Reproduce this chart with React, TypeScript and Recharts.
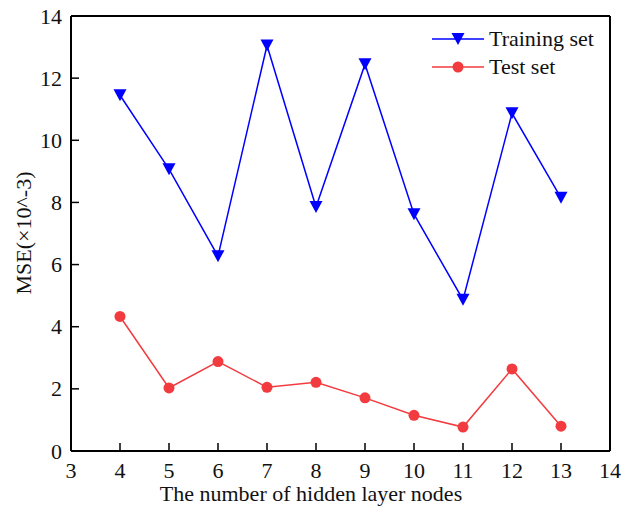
import { LineChart, Line, XAxis, YAxis, ReferenceLine } from "recharts";

const nodes = [4, 5, 6, 7, 8, 9, 10, 11, 12, 13];
const trainingMse = [11.45, 9.07, 6.27, 13.05, 7.85, 12.45, 7.62, 4.87, 10.87, 8.15];
const testMse = [4.33, 2.03, 2.88, 2.05, 2.21, 1.71, 1.15, 0.77, 2.64, 0.8];
const xTicks = [3, 4, 5, 6, 7, 8, 9, 10, 11, 12, 13, 14];
const yTicks = [0, 2, 4, 6, 8, 10, 12, 14];

const BLUE = "#0000ff";
const RED = "#f23b3f";
const FONT = "'Liberation Serif', 'Times New Roman', serif";
const FS = 22;

const data = nodes.map((n, i) => ({ n, train: trainingMse[i], test: testMse[i] }));

const YTick = ({ x, y, payload }: any) => (
  <g>
    <line x1={x + 9} x2={x + 17} y1={y} y2={y} stroke="#000" strokeWidth={1.5} />
    <text x={x} y={y} textAnchor="end" dominantBaseline="central" fontFamily={FONT} fontSize={FS} fill="#111">
      {payload.value}
    </text>
  </g>
);

const XTick = ({ x, y, payload }: any) => (
  <g>
    <line x1={x} x2={x} y1={y - 9} y2={y - 17} stroke="#000" strokeWidth={1.5} />
    <text x={x} y={y + 18} textAnchor="middle" fontFamily={FONT} fontSize={FS} fill="#111">
      {payload.value}
    </text>
  </g>
);

const DownTriangle = ({ cx, cy }: any) => (
  <path d={`M${cx - 6.5},${cy - 6} L${cx + 6.5},${cy - 6} L${cx},${cy + 6} Z`} fill={BLUE} />
);

const RedDot = ({ cx, cy }: any) => <circle cx={cx} cy={cy} r={5.5} fill={RED} />;

const legendItems = [
  { label: "Training set", color: BLUE, shape: "tri" },
  { label: "Test set", color: RED, shape: "dot" },
];

export default function App() {
  return (
    <div style={{ position: "absolute", left: 0, top: 0, width: 621, height: 510, background: "#fff" }}>
      <LineChart width={621} height={510} data={data} margin={{ top: 16, right: 11, left: 0, bottom: 0 }}>
        <XAxis
          dataKey="n"
          type="number"
          domain={[3, 14]}
          ticks={xTicks}
          height={59}
          tickSize={0}
          tickMargin={9}
          tick={<XTick />}
          tickLine={false}
          axisLine={{ stroke: "#000", strokeWidth: 2 }}
          interval={0}
        />
        <YAxis
          type="number"
          domain={[0, 14]}
          ticks={yTicks}
          width={71}
          tickSize={0}
          tickMargin={9}
          tick={<YTick />}
          tickLine={false}
          axisLine={{ stroke: "#000", strokeWidth: 2 }}
          interval={0}
        />
        <ReferenceLine y={14} stroke="#000" strokeWidth={2} />
        <ReferenceLine x={14} stroke="#000" strokeWidth={2} />
        <Line
          dataKey="train"
          name="Training set"
          stroke={BLUE}
          strokeWidth={1.5}
          dot={<DownTriangle />}
          activeDot={false}
          isAnimationActive={false}
        />
        <Line
          dataKey="test"
          name="Test set"
          stroke={RED}
          strokeWidth={1.5}
          dot={<RedDot />}
          activeDot={false}
          isAnimationActive={false}
        />
      </LineChart>
      <div style={{ position: "absolute", left: 432, top: 25, fontFamily: FONT, fontSize: FS, color: "#111" }}>
        {legendItems.map((it) => (
          <div key={it.label} style={{ display: "flex", alignItems: "center", height: 28 }}>
            <svg width={54} height={20} style={{ marginRight: 3 }}>
              <line x1={0} x2={52} y1={10} y2={10} stroke={it.color} strokeWidth={1.5} />
              {it.shape === "tri" ? (
                <path d="M19.5,4 L32.5,4 L26,16 Z" fill={it.color} />
              ) : (
                <circle cx={26} cy={10} r={5.5} fill={it.color} />
              )}
            </svg>
            <span>{it.label}</span>
          </div>
        ))}
      </div>
      <div
        style={{
          position: "absolute",
          left: 0,
          top: 481,
          width: 622,
          textAlign: "center",
          fontFamily: FONT,
          fontSize: FS,
          color: "#111",
        }}
      >
        The number of hidden layer nodes
      </div>
      <div
        style={{
          position: "absolute",
          left: 24,
          top: 233,
          transform: "translate(-50%, -50%) rotate(-90deg)",
          whiteSpace: "nowrap",
          fontFamily: FONT,
          fontSize: FS,
          color: "#111",
        }}
      >
        MSE(×10^-3)
      </div>
    </div>
  );
}
